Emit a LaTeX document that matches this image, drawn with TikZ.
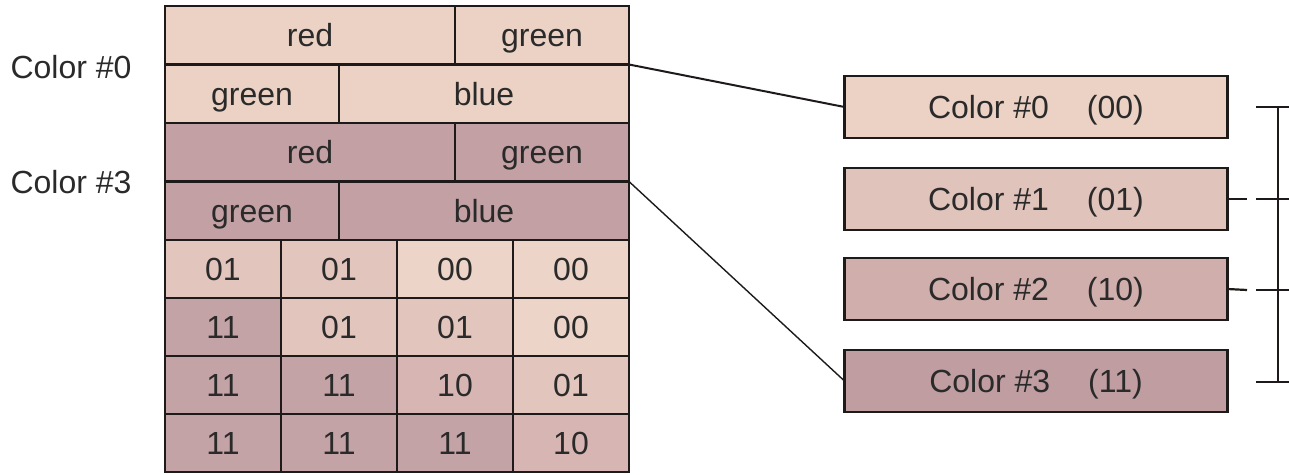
\documentclass[tikz,border=0pt]{standalone}
\usepackage{fontspec}
\setmainfont{Liberation Sans}
\definecolor{cpeach}{HTML}{EBD2C5}
\definecolor{cmauve}{HTML}{C2A0A4}
\definecolor{czero}{HTML}{ECD4C8}
\definecolor{cone}{HTML}{E2C5BD}
\definecolor{ctwo}{HTML}{D6B5B3}
\definecolor{cthree}{HTML}{C4A3A7}
\definecolor{bone}{HTML}{E0C3BB}
\definecolor{btwo}{HTML}{D0AEAC}
\definecolor{bthree}{HTML}{BF9DA1}
\definecolor{txt}{HTML}{2A2A2A}
\definecolor{ln}{HTML}{1E1A1A}
\begin{document}
\begin{tikzpicture}[x=1pt,y=-1pt,
  font=\fontsize{32}{38}\selectfont,
  cell/.style={draw=ln, line width=2pt, inner sep=0pt, outer sep=0pt, text=txt,
    minimum height=58pt, text height=23pt, text depth=0pt},
  wide/.style={cell, minimum width=290pt},
  narrow/.style={cell, minimum width=174pt},
  gcell/.style={cell, minimum width=116pt},
  palbox/.style={draw=ln, line width=2.6pt, inner sep=0pt, outer sep=0pt, text=txt,
    minimum width=383pt, minimum height=62pt, text height=23pt, text depth=0pt},
  lbl/.style={text=txt, inner sep=0pt, text height=23pt, text depth=0pt},
  conn/.style={draw=ln, line width=2pt},
  brk/.style={draw=ln, line width=2.2pt}]
\useasboundingbox (0,0) rectangle (1289,474);
% header rows (color #0)
\node[wide, fill=cpeach] (r1a) at (310,35) {red};
\node[narrow, fill=cpeach] (r1b) at (542,35) {green};
\node[narrow, fill=cpeach] (r2a) at (252,93.5) {green};
\node[wide, fill=cpeach] (r2b) at (484,93.5) {blue};
% header rows (color #3)
\node[wide, fill=cmauve] (r3a) at (310,152) {red};
\node[narrow, fill=cmauve] (r3b) at (542,152) {green};
\node[narrow, fill=cmauve] (r4a) at (252,210.5) {green};
\node[wide, fill=cmauve] (r4b) at (484,210.5) {blue};
% pixel grid
\node[gcell, fill=cone]   (g11) at (223,269) {01};
\node[gcell, fill=cone]   (g12) at (339,269) {01};
\node[gcell, fill=czero]  (g13) at (455,269) {00};
\node[gcell, fill=czero]  (g14) at (571,269) {00};
\node[gcell, fill=cthree] (g21) at (223,327) {11};
\node[gcell, fill=cone]   (g22) at (339,327) {01};
\node[gcell, fill=cone]   (g23) at (455,327) {01};
\node[gcell, fill=czero]  (g24) at (571,327) {00};
\node[gcell, fill=cthree] (g31) at (223,385) {11};
\node[gcell, fill=cthree] (g32) at (339,385) {11};
\node[gcell, fill=ctwo]   (g33) at (455,385) {10};
\node[gcell, fill=cone]   (g34) at (571,385) {01};
\node[gcell, fill=cthree] (g41) at (223,443) {11};
\node[gcell, fill=cthree] (g42) at (339,443) {11};
\node[gcell, fill=cthree] (g43) at (455,443) {11};
\node[gcell, fill=ctwo]   (g44) at (571,443) {10};
% side labels
\node[lbl] (l0) at (71,67) {Color \#0};
\node[lbl] (l3) at (71,182) {Color \#3};
% palette
\node[palbox, fill=cpeach] (b0) at (1036,107) {Color \#0\hspace{38pt}(00)};
\node[palbox, fill=bone]   (b1) at (1036,199) {Color \#1\hspace{38pt}(01)};
\node[palbox, fill=btwo]   (b2) at (1036,289) {Color \#2\hspace{38pt}(10)};
\node[palbox, fill=bthree] (b3) at (1036,381) {Color \#3\hspace{38pt}(11)};
% connectors
\draw[conn] (r2b.north east) -- (b0.west);
\draw[conn, line width=1.4pt] (r4b.north east) -- (b3.west);
% bracket
\coordinate (t0) at (1278,107);
\coordinate (t1) at (1278,199);
\coordinate (t2) at (1278,290);
\coordinate (t3) at (1278,382);
\coordinate (e0) at (1289,107);
\coordinate (e1) at (1289,199);
\coordinate (e2) at (1289,290);
\coordinate (e3) at (1289,382);
\coordinate (s0) at (1256,107);
\coordinate (s1) at (1256,199);
\coordinate (s2) at (1256,290);
\coordinate (s3) at (1256,382);
\coordinate (d1) at (1247,199);
\coordinate (d2) at (1247,290);
\draw[brk] (t0) -- (t3);
\draw[brk] (s0) -- (e0);
\draw[brk] (s1) -- (e1);
\draw[brk] (s2) -- (e2);
\draw[brk] (s3) -- (e3);
\draw[brk] (b1.east) -- (d1);
\draw[brk] (b2.east) -- (d2);
\end{tikzpicture}
\end{document}
